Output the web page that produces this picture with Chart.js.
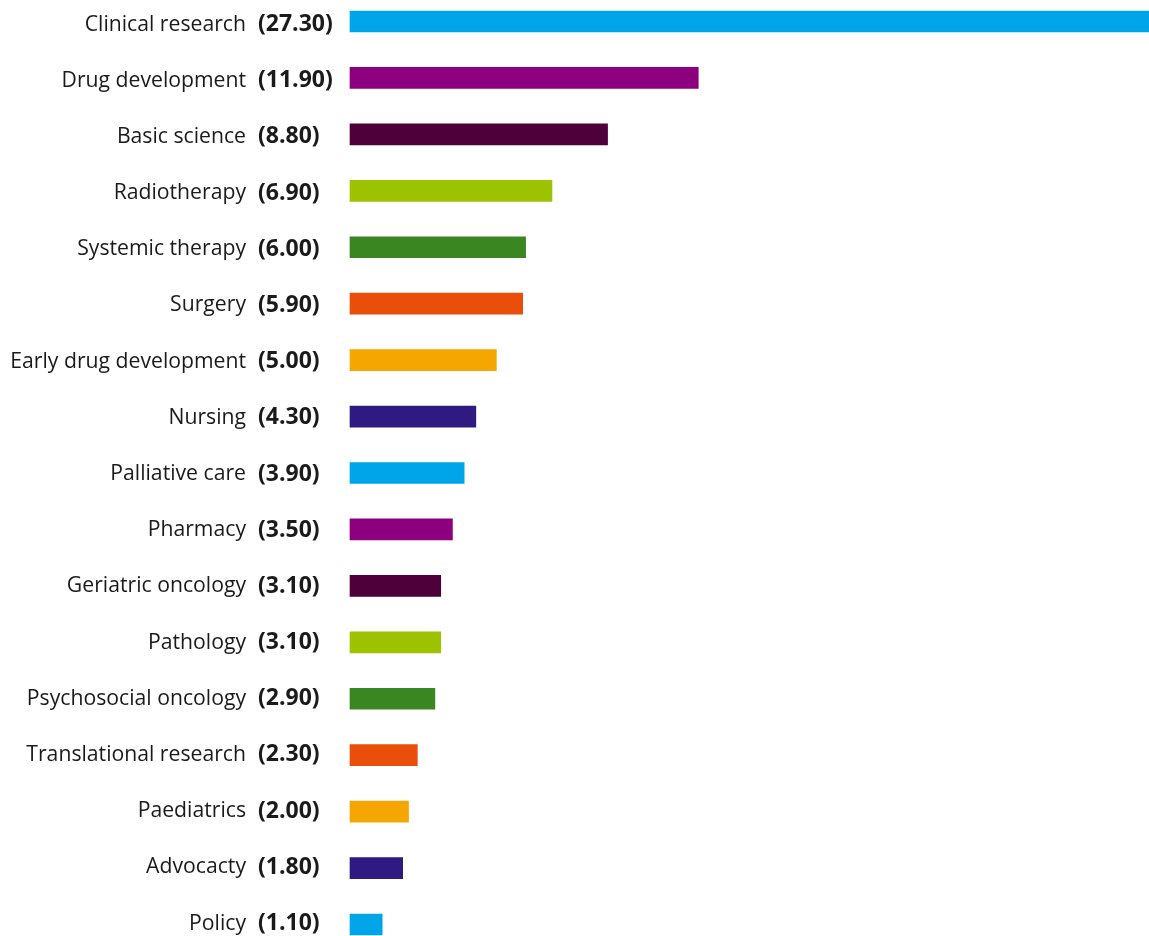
<!DOCTYPE html>
<html>
<head>
<meta charset="utf-8">
<script src="https://cdn.jsdelivr.net/npm/chart.js@4.4.0/dist/chart.umd.min.js"></script>
<style>
  html, body { margin: 0; padding: 0; background: #fff; }
  #wrap { width: 1149px; height: 936px; }
</style>
</head>
<body>
<div id="wrap"><canvas id="myChart"></canvas></div>
<script>
const categories = [
  "Clinical research", "Drug development", "Basic science", "Radiotherapy",
  "Systemic therapy", "Surgery", "Early drug development", "Nursing",
  "Palliative care", "Pharmacy", "Geriatric oncology", "Pathology",
  "Psychosocial oncology", "Translational research", "Paediatrics",
  "Advocacty", "Policy"
];
const values = [27.3, 11.9, 8.8, 6.9, 6.0, 5.9, 5.0, 4.3, 3.9, 3.5, 3.1, 3.1, 2.9, 2.3, 2.0, 1.8, 1.1];
const palette = ["#00a5e9", "#8c007f", "#4e003b", "#9dc200", "#3a8620", "#e94e0a", "#f6a600", "#2e1a80"];
const barColors = values.map((v, i) => palette[i % palette.length]);

// name + bold value to the left of each bar
const labelPlugin = {
  id: "rowLabels",
  afterDraw(chart) {
    const ctx = chart.ctx;
    const yScale = chart.scales.y;
    ctx.save();
    ctx.fillStyle = "#1a1a1a";
    ctx.textBaseline = "middle";
    categories.forEach((name, i) => {
      const y = yScale.getPixelForTick(i) + 3 - i * 0.25;
      ctx.font = "21.2px 'Open Sans'";
      ctx.textAlign = "right";
      ctx.fillText(name, 246, y);
      ctx.font = "bold 23px 'Open Sans'";
      ctx.textAlign = "left";
      ctx.fillText(`(${values[i].toFixed(2)})`, 258, y);
    });
    ctx.restore();
  },
};

const ctx = document.getElementById("myChart").getContext("2d");
const myChart = new Chart(ctx, {
  type: "bar",
  data: {
    labels: categories,
    datasets: [
      {
        data: values,
        backgroundColor: barColors,
        barThickness: 21,
        clip: false,
      },
    ],
  },
  options: {
    indexAxis: "y",
    responsive: true,
    maintainAspectRatio: false,
    animation: false,
    layout: { padding: { left: 350, right: 0, top: 21.5, bottom: 11.5 } },
    plugins: { legend: { display: false }, tooltip: { enabled: false } },
    scales: {
      x: { display: false, min: 0, max: 27.3 },
      y: { display: false, offset: false },
    },
  },
  plugins: [labelPlugin],
});
</script>
</body>
</html>
